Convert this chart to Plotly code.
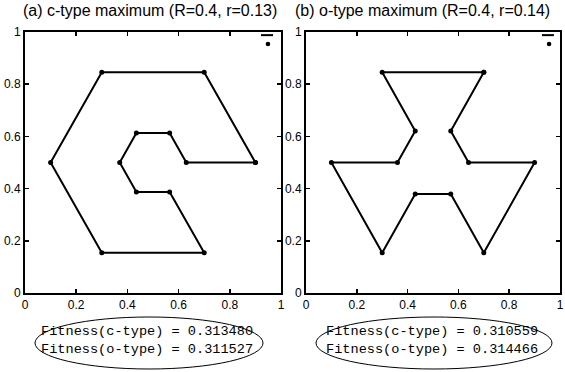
import plotly.graph_objects as go

# ---- data ----
titles = ["(a) c-type maximum (R=0.4, r=0.13)", "(b) o-type maximum (R=0.4, r=0.14)"]

c_x = [0.9, 0.7, 0.3, 0.1, 0.3, 0.7, 0.565, 0.435, 0.37, 0.435, 0.565, 0.63, 0.9]
c_y = [0.5, 0.846, 0.846, 0.5, 0.154, 0.154, 0.387, 0.387, 0.5, 0.613, 0.613, 0.5, 0.5]

o_x = [0.7, 0.3, 0.43, 0.36, 0.1, 0.3, 0.43, 0.57, 0.7, 0.9, 0.64, 0.57, 0.7]
o_y = [0.846, 0.846, 0.621, 0.5, 0.5, 0.154, 0.379, 0.379, 0.154, 0.5, 0.5, 0.621, 0.846]

fitness_c = ["0.313480", "0.310559"]
fitness_o = ["0.311527", "0.314466"]

tick_vals = [0, 0.2, 0.4, 0.6, 0.8, 1]
tick_text = ["0", "0.2", "0.4", "0.6", "0.8", "1"]

W, H = 565, 372


def px(x):
    return x / W


def py(y):
    return (H - y) / H


x_dom = [[px(25), px(281)], [px(306), px(560)]]
y_dom = [py(293), py(32)]

fig = go.Figure()
series = [(c_x, c_y), (o_x, o_y)]
for i, (xs, ys) in enumerate(series):
    xa = "x" if i == 0 else "x2"
    ya = "y" if i == 0 else "y2"
    fig.add_trace(go.Scatter(
        x=xs, y=ys, mode="lines+markers", xaxis=xa, yaxis=ya,
        line=dict(color="black", width=2),
        marker=dict(color="black", size=5),
        showlegend=False, hoverinfo="skip", cliponaxis=False))

axis_common = dict(
    range=[0, 1], tickvals=tick_vals, ticktext=tick_text,
    ticks="inside", ticklen=4, tickwidth=1.5, tickcolor="black",
    showline=True, linecolor="black", linewidth=2, mirror="ticks",
    showgrid=False, zeroline=False, automargin=False,
    tickfont=dict(family="Liberation Sans, Arial, sans-serif", size=12, color="black"),
)

fig.update_layout(
    width=W, height=H, margin=dict(l=0, r=0, t=0, b=0, autoexpand=False),
    plot_bgcolor="white", paper_bgcolor="white",
    xaxis=dict(domain=x_dom[0], anchor="y", **axis_common),
    yaxis=dict(domain=y_dom, anchor="x", **axis_common),
    xaxis2=dict(domain=x_dom[1], anchor="y2", **axis_common),
    yaxis2=dict(domain=y_dom, anchor="x2", **axis_common),
)

annotations = []
shapes = []
ell_cx = [149, 434]
ell_hw = [114, 118]
title_cx = [150, 422]
for i in range(2):
    # panel title
    annotations.append(dict(
        text=titles[i], xref="paper", yref="paper",
        x=px(title_cx[i]), y=py(11), xanchor="center", yanchor="middle",
        showarrow=False,
        font=dict(family="Liberation Sans, Arial, sans-serif", size=16, color="black")))
    # fitness text
    annotations.append(dict(
        text=f"Fitness(c-type) = {fitness_c[i]}<br>Fitness(o-type) = {fitness_o[i]}",
        xref="paper", yref="paper", x=px(ell_cx[i] - 2), y=py(340),
        xanchor="center", yanchor="middle", showarrow=False, align="left",
        font=dict(family="Liberation Mono, Courier New, monospace", size=13.6, color="black")))
    # ellipse
    shapes.append(dict(
        type="circle", xref="paper", yref="paper",
        x0=px(ell_cx[i] - ell_hw[i]), x1=px(ell_cx[i] + ell_hw[i]),
        y0=py(369), y1=py(317),
        line=dict(color="black", width=1)))
    # legend glyphs (line and dot) in top-right corner
    xr = "x domain" if i == 0 else "x2 domain"
    yr = "y domain" if i == 0 else "y2 domain"
    lx0, lx1, dx = (0.922, 0.969, 0.949) if i == 0 else (0.929, 0.976, 0.957)
    shapes.append(dict(type="line", xref=xr, yref=yr, x0=lx0, x1=lx1, y0=0.988, y1=0.988,
                       line=dict(color="black", width=2)))
    shapes.append(dict(type="circle", xref=xr, yref=yr,
                       x0=dx - 0.009, x1=dx + 0.009, y0=0.954 - 0.009, y1=0.954 + 0.009,
                       fillcolor="black", line=dict(color="black", width=0)))

fig.update_layout(annotations=annotations, shapes=shapes)
fig.write_html(
    "out.html",
    config={"displayModeBar": False, "staticPlot": True},
    post_script="document.body.style.margin='0';document.body.style.overflow='hidden';",
)
